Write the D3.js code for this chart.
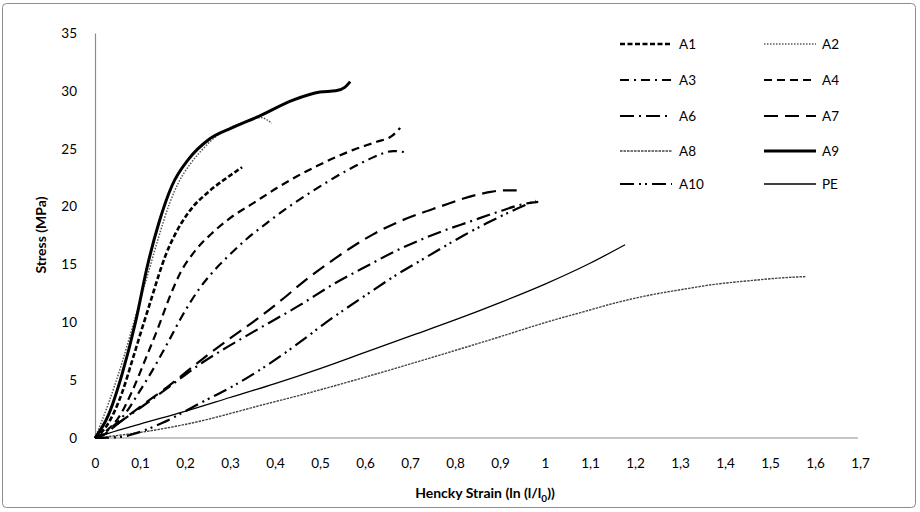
<!DOCTYPE html>
<html><head><meta charset="utf-8">
<script src="https://cdn.jsdelivr.net/npm/d3@7"></script>
<style>body{margin:0;background:#fff}svg{display:block}text{font-family:Lato,"Open Sans",sans-serif}</style>
</head><body>
<svg id="c" width="920" height="512"></svg>
<script>
const xTicks = [0,0.1,0.2,0.3,0.4,0.5,0.6,0.7,0.8,0.9,1,1.1,1.2,1.3,1.4,1.5,1.6,1.7];
const yTicks = [0,5,10,15,20,25,30,35];
const seriesNames = ["A1","A2","A3","A4","A6","A7","A8","A9","A10","PE"];

const A1 = [[0,0],[0.03,1.3],[0.06,3.9],[0.082,6.6],[0.104,9.4],[0.125,12.0],[0.141,14.0],[0.156,15.7],[0.178,17.6],[0.208,19.5],[0.253,21.3],[0.29,22.4],[0.327,23.4]];
const A2 = [[0,0],[0.03,3],[0.06,6.5],[0.09,10.5],[0.12,14.5],[0.141,17.3],[0.165,20.2],[0.186,22.1],[0.212,23.7],[0.238,24.9],[0.267,26.0],[0.3,26.8],[0.34,27.4],[0.367,27.7],[0.393,27.2]];
const A3 = [[0,0],[0.03,0.7],[0.067,2.1],[0.097,3.9],[0.127,5.8],[0.164,8.4],[0.193,10.5],[0.23,12.8],[0.275,14.9],[0.293,15.6],[0.337,17.2],[0.381,18.55],[0.426,19.85],[0.47,21.0],[0.515,22.1],[0.559,23.1],[0.604,24.0],[0.633,24.5],[0.663,24.8],[0.689,24.7]];
const A4 = [[0,0],[0.025,0.6],[0.053,1.8],[0.082,4.0],[0.112,6.8],[0.141,9.6],[0.164,12.0],[0.19,14.3],[0.223,16.2],[0.26,17.7],[0.3,19.0],[0.352,20.3],[0.404,21.6],[0.448,22.6],[0.493,23.5],[0.537,24.3],[0.574,24.9],[0.626,25.6],[0.66,26.1],[0.678,26.8]];
const A6 = [[0,0],[0.02,0.3],[0.053,1.3],[0.104,2.7],[0.164,4.4],[0.238,6.5],[0.3,8.0],[0.371,9.6],[0.456,11.5],[0.53,13.3],[0.611,15.0],[0.67,16.2],[0.722,17.1],[0.774,17.9],[0.833,18.7],[0.9,19.6],[0.95,20.2],[0.985,20.4]];
const A7 = [[0,0],[0.02,0.3],[0.053,1.3],[0.104,2.8],[0.164,4.5],[0.238,6.8],[0.3,8.6],[0.371,10.6],[0.42,12.1],[0.463,13.5],[0.533,15.5],[0.567,16.4],[0.618,17.6],[0.67,18.6],[0.722,19.4],[0.767,20.0],[0.819,20.7],[0.87,21.2],[0.907,21.4],[0.937,21.4]];
const A8 = [[0,0],[0.067,0.3],[0.216,1.3],[0.371,2.85],[0.456,3.7],[0.604,5.3],[0.752,7.0],[0.9,8.75],[1.011,10.1],[1.085,10.9],[1.159,11.7],[1.233,12.35],[1.307,12.85],[1.381,13.3],[1.456,13.6],[1.53,13.85],[1.581,13.95]];
const A9 = [[0,0],[0.03,2],[0.06,5.5],[0.09,10],[0.116,14.8],[0.142,18.6],[0.171,21.8],[0.208,24.1],[0.253,25.8],[0.304,26.8],[0.364,27.8],[0.44,29.2],[0.5,29.9],[0.535,30.0],[0.555,30.3],[0.567,30.8]];
const A10 = [[0,0],[0.06,0.1],[0.09,0.4],[0.149,1.3],[0.238,3.1],[0.312,4.6],[0.371,6.0],[0.456,8.3],[0.507,9.8],[0.604,12.4],[0.67,14.1],[0.722,15.3],[0.774,16.5],[0.819,17.5],[0.87,18.55],[0.92,19.5],[0.967,20.3],[0.98,20.5]];
const PE = [[0,0],[0.03,0.4],[0.1,1.2],[0.2,2.3],[0.3,3.5],[0.4,4.7],[0.5,6.0],[0.6,7.4],[0.7,8.8],[0.8,10.2],[0.9,11.7],[1.0,13.3],[1.1,15.1],[1.178,16.7]];

const dataByName = {A1,A2,A3,A4,A6,A7,A8,A9,A10,PE};
const styles = {
  A1:{w:2.6,d:"5,2.5",c:"#000"},
  A2:{w:1.5,d:"1.5,1.5",c:"#555"},
  A3:{w:2.2,d:"9,5,2,5",c:"#000"},
  A4:{w:2.2,d:"8,5",c:"#000"},
  A6:{w:2.2,d:"14,5,2,5",c:"#000"},
  A7:{w:2.2,d:"14,7",c:"#000"},
  A8:{w:1.4,d:"2.5,1",c:"#444"},
  A9:{w:3,d:null,c:"#000"},
  A10:{w:2.2,d:"14,5,2,4,2,5",c:"#000"},
  PE:{w:1.3,d:null,c:"#000"}
};

const svg = d3.select("#c");
svg.append("rect").attr("x",2.5).attr("y",3.5).attr("width",913).attr("height",504).attr("rx",4)
  .attr("fill","#fff").attr("stroke","#8c8c8c").attr("stroke-width",1);

const x = d3.scaleLinear().domain([0,1.7]).range([95,860]);
const y = d3.scaleLinear().domain([0,35]).range([438,33]);

const fmt = d => String(+d.toFixed(1)).replace(".",",");
const xAxis = svg.append("g").attr("transform","translate(0,438)")
  .call(d3.axisBottom(x).tickValues(xTicks).tickSize(0).tickPadding(20).tickFormat(fmt));
xAxis.select(".domain").attr("stroke","#8c8c8c").attr("stroke-width",1.2).attr("d","M95,0H858");
xAxis.selectAll("text").attr("font-size",13.5).attr("fill","#000").attr("font-family","Lato");

const yAxis = svg.append("g").attr("transform","translate(95,0)")
  .call(d3.axisLeft(y).tickValues(yTicks).tickSize(0).tickPadding(18));
yAxis.select(".domain").attr("stroke","#8c8c8c").attr("stroke-width",1.2);
yAxis.selectAll("text").attr("font-size",13.5).attr("fill","#000").attr("font-family","Lato");

const xt = svg.append("text").attr("x",485).attr("y",498).attr("text-anchor","middle")
  .attr("font-size",14).attr("font-weight","bold");
xt.append("tspan").text("Hencky Strain (ln (l/l");
xt.append("tspan").attr("font-size",10).attr("dy",4).text("0");
xt.append("tspan").attr("dy",-4).text("))");
svg.append("text").attr("transform","translate(46,235) rotate(-90)").attr("text-anchor","middle")
  .attr("font-size",14).attr("font-weight","bold").text("Stress (MPa)");

const line = d3.line().x(d=>x(d[0])).y(d=>y(d[1])).curve(d3.curveMonotoneX);
const drawOrder = ["A8","PE","A10","A6","A7","A3","A4","A1","A2","A9"];
drawOrder.forEach(n=>{
  const s = styles[n];
  svg.append("path").datum(dataByName[n]).attr("d",line).attr("fill","none")
    .attr("stroke",s.c).attr("stroke-width",s.w).attr("stroke-dasharray",s.d)
    .attr("stroke-linejoin","round");
});

const legRows = [44,80,116,151,184];
const legCols = [[620,679],[764,822]];
seriesNames.forEach((n,i)=>{
  const col = legCols[i%2], row = legRows[Math.floor(i/2)];
  const s = styles[n];
  svg.append("line").attr("x1",col[0]).attr("x2",col[0]+52).attr("y1",row).attr("y2",row)
    .attr("stroke",s.c).attr("stroke-width",s.w).attr("stroke-dasharray",s.d);
  svg.append("text").attr("x",col[1]).attr("y",row+5).attr("font-size",13.5).text(n);
});
</script>
</body></html>
